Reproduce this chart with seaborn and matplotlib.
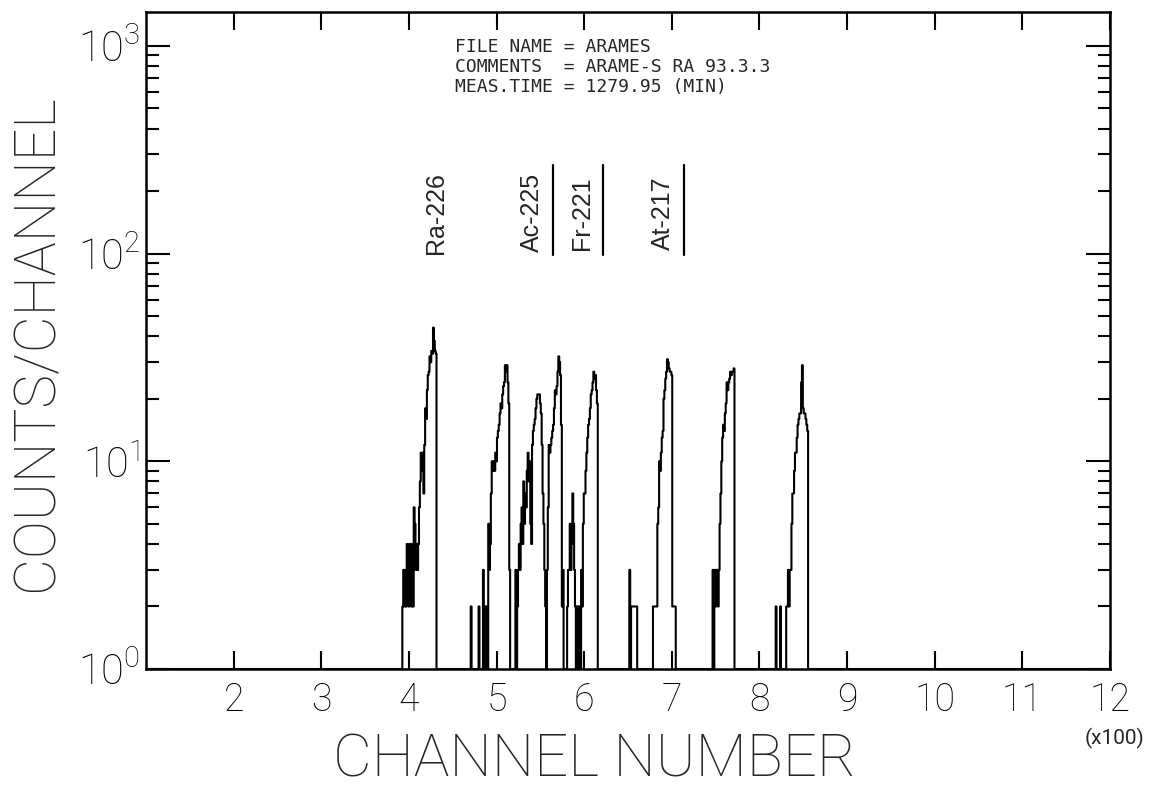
import numpy as np
import pandas as pd
import matplotlib
matplotlib.use("Agg")
import matplotlib.pyplot as plt
import seaborn as sns
from matplotlib.ticker import FixedLocator, NullLocator, LogLocator, NullFormatter

# ---------------- data ----------------
channel_min, channel_max = 100, 1200

# counts per channel in the regions where the spectrum rises above the floor (1 count)
ra226_start = 392
ra226_counts = [1, 2, 3, 2, 3, 2, 4, 3, 2, 4, 3, 2, 4, 2, 6, 5, 3, 4, 3, 4,
                6, 8, 11, 9, 11, 7, 12, 18, 16, 22, 26, 27, 32, 30, 34, 33,
                44, 38, 34, 33, 1]

peak_b_start = 470
peak_b_counts = [1, 2, 1, 1, 1, 1, 1, 1, 1, 1, 2, 1, 1, 1, 1, 3, 1, 2, 1, 2,
                 1, 5, 3, 4, 7, 10, 9, 10, 9, 11, 10, 13, 14, 15, 17, 19, 18,
                 21, 23, 24, 29, 27, 29, 24, 19, 3, 1]

ac225_start = 517
ac225_counts = [1, 1, 1, 1, 1, 3, 1, 2, 3, 4, 3, 5, 6, 4, 8, 5, 7, 6, 9, 11,
                8, 10, 5, 4, 12, 14, 15, 16, 18, 20, 21, 21, 21, 19, 17, 12,
                7, 5, 3, 2, 1, 3, 6, 12, 11, 12, 13, 14, 15, 18, 22, 21, 23,
                27, 32, 30, 26, 15, 2, 3, 1]

fr221_start = 578
fr221_counts = [1, 1, 1, 2, 3, 3, 5, 3, 4, 7, 5, 3, 2, 1, 2, 1, 2, 2, 1, 3,
                2, 5, 7, 7, 9, 11, 13, 15, 16, 18, 21, 22, 24, 27, 25, 26,
                22, 19, 1]

small_start = 651
small_counts = [1, 3, 1, 2, 2, 2, 2, 2, 2, 2, 1]

at217_start = 678
at217_counts = [1, 2, 2, 2, 2, 2, 5, 6, 10, 9, 11, 13, 14, 20, 22, 25, 27, 31,
                30, 28, 27, 27, 26, 2, 2, 2, 2, 1]

peak_g_start = 746
peak_g_counts = [1, 3, 1, 3, 2, 3, 3, 2, 3, 5, 7, 10, 13, 15, 14, 17, 19, 24,
                 22, 24, 25, 27, 26, 27, 27, 28, 1]

peak_h_start = 818
peak_h_counts = [1, 2, 1, 1, 1, 1, 2, 1, 1, 1, 1, 1, 1, 2, 2, 3, 2, 3, 3, 5,
                 7, 7, 9, 11, 11, 13, 15, 16, 17, 17, 24, 29, 18, 17, 17, 16,
                 15, 14, 1]

peak_label_text = ["Ra-226", "Ac-225", "Fr-221", "At-217"]
peak_label_channel = [431, 540, 597, 690]
peak_label_underlined = [False, True, True, True]
peak_label_count = 157

x_tick_values = [200, 300, 400, 500, 600, 700, 800, 900, 1000, 1100, 1200]
x_tick_labels = ["2", "3", "4", "5", "6", "7", "8", "9", "10", "11", "12"]
y_tick_values = [1, 10, 100, 1000]
y_tick_labels = [r"$\mathregular{10^{0}}$", r"$\mathregular{10^{1}}$",
                 r"$\mathregular{10^{2}}$", r"$\mathregular{10^{3}}$"]

info_lines = ["FILE NAME = ARAMES",
              "COMMENTS  = ARAME-S RA 93.3.3",
              "MEAS.TIME = 1279.95 (MIN)"]

# ---------------- assemble spectrum ----------------
regions = [(ra226_start, ra226_counts), (peak_b_start, peak_b_counts),
           (ac225_start, ac225_counts), (fr221_start, fr221_counts),
           (small_start, small_counts), (at217_start, at217_counts),
           (peak_g_start, peak_g_counts), (peak_h_start, peak_h_counts)]
channels = np.arange(channel_min, channel_max + 1)
counts = np.ones(len(channels), dtype=float)
for start, vals in regions:
    i0 = start - channel_min
    counts[i0:i0 + len(vals)] = vals
df = pd.DataFrame({"channel": channels, "counts": counts})

# ---------------- style ----------------
sns.set_style("ticks")
plt.rcParams["font.family"] = ["Roboto", "DejaVu Sans"]
plt.rcParams["font.weight"] = "light"
plt.rcParams["axes.linewidth"] = 1.8

W, H = 1165, 789
fig = plt.figure(figsize=(W / 100, H / 100), dpi=100)
fig.patch.set_facecolor("white")
ax_l, ax_r, ax_t, ax_b = 146, 1110, 12, 669
ax = fig.add_axes([ax_l / W, 1 - ax_b / H, (ax_r - ax_l) / W, (ax_b - ax_t) / H])
ax.set_facecolor("white")

sns.lineplot(data=df, x="channel", y="counts", ax=ax, color="black",
             linewidth=1.5, drawstyle="steps-mid", estimator=None, errorbar=None)

ax.set_yscale("log")
ax.set_xlim(channel_min, channel_max)
ax.set_ylim(1, 1456)

for s in ax.spines.values():
    s.set_color("black")
    s.set_linewidth(1.8)

ax.xaxis.set_major_locator(FixedLocator(x_tick_values))
ax.set_xticklabels(x_tick_labels)
ax.xaxis.set_minor_locator(NullLocator())
ax.yaxis.set_major_locator(FixedLocator(y_tick_values))
ax.set_yticklabels(y_tick_labels)
ax.yaxis.set_minor_locator(LogLocator(base=10, subs=np.arange(2, 10)))
ax.yaxis.set_minor_formatter(NullFormatter())

ax.tick_params(axis="x", which="major", direction="in", length=13, width=1.5,
               top=True, bottom=True, labelsize=27, pad=9, colors="black")
ax.tick_params(axis="y", which="major", direction="in", length=17, width=1.5,
               left=True, right=True, labelsize=30, pad=4, colors="black")
ax.tick_params(axis="y", which="minor", direction="in", length=9, width=1.5,
               left=True, right=True, colors="black")

ax.set_xlabel("CHANNEL NUMBER", fontsize=43, fontweight="light", va="center")
ax.xaxis.set_label_coords((595 - ax_l) / (ax_r - ax_l), -(760 - ax_b) / (ax_b - ax_t))
ax.set_ylabel("COUNTS/CHANNEL", fontsize=41, fontweight="light", va="center")
ax.yaxis.set_label_coords(-(ax_l - 37) / (ax_r - ax_l), (ax_b - 343) / (ax_b - ax_t))

fig.text(1114 / W, 1 - 738 / H, "(x100)", fontsize=15, fontweight="normal",
         ha="center", va="center")

# header text block
for i, line in enumerate(info_lines):
    fig.text(455 / W, 1 - (47 + 20 * i) / H, line, family="DejaVu Sans Mono",
             fontsize=13, fontweight="normal", ha="left", va="center")

# nuclide labels
for txt, ch, ul in zip(peak_label_text, peak_label_channel, peak_label_underlined):
    ax.text(ch, peak_label_count, txt, rotation=90, ha="center", va="center",
            fontsize=18, family="Liberation Sans", fontweight="normal")
    if ul:
        ax.plot([ch + 24, ch + 24], [98, 268], color="black", linewidth=1.6)

fig.savefig("out.png", dpi=100, facecolor="white")
